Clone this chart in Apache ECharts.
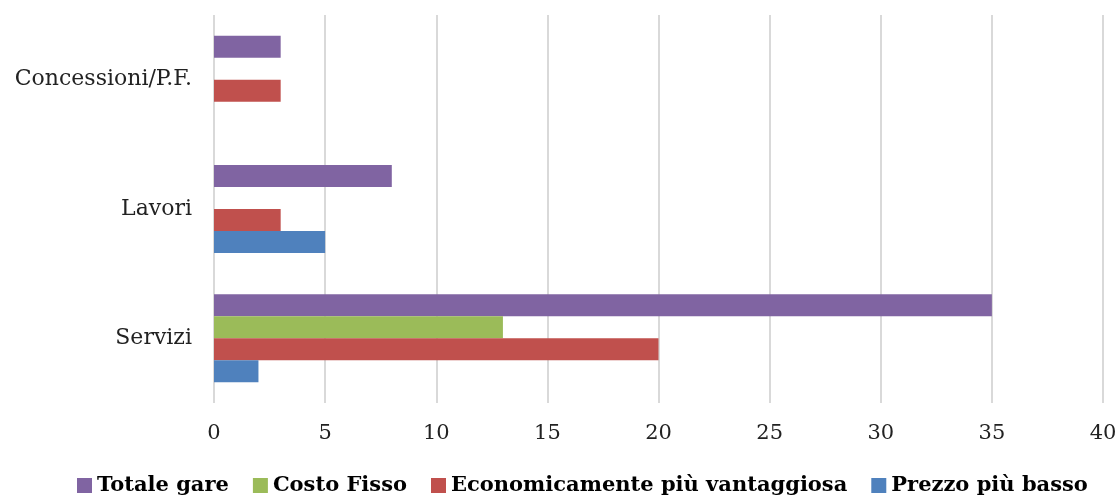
<!DOCTYPE html>
<html>
<head>
<meta charset="utf-8">
<script src="https://cdn.jsdelivr.net/npm/echarts@6/dist/echarts.min.js"></script>
<style>
  html, body { margin: 0; padding: 0; background: #fff; }
  #chart { width: 1120px; height: 501px; }
</style>
</head>
<body>
<div id="chart"></div>
<script>
const categories = ['Servizi', 'Lavori', 'Concessioni/P.F.']
const seriesNames = ['Totale gare', 'Costo Fisso', 'Economicamente più vantaggiosa', 'Prezzo più basso']
const totaleGare = [35, 8, 3]
const costoFisso = [13, 0, 0]
const economicamente = [20, 3, 3]
const prezzoBasso = [2, 5, 0]

const colors = ['#8064a2', '#9bbb59', '#c0504d', '#4f81bd']
const font = '"DejaVu Serif", "Liberation Serif", serif'

const chart = echarts.init(document.getElementById('chart'))

const values = [totaleGare, costoFisso, economicamente, prezzoBasso]

chart.setOption({
  animation: false,
  textStyle: { fontFamily: font },
  grid: { top: 15, bottom: 98, left: 214, right: 17 },
  legend: {
    data: seriesNames,
    bottom: 0,
    left: 72,
    itemWidth: 15,
    itemHeight: 15,
    itemGap: 24,
    itemStyle: { borderWidth: 0 },
    icon: 'rect',
    textStyle: { fontFamily: font, fontSize: 21, fontWeight: 'bold', color: '#000' }
  },
  xAxis: {
    type: 'value',
    min: 0,
    max: 40,
    interval: 5,
    axisLine: { show: false },
    axisTick: { show: false },
    axisLabel: { color: '#222', fontSize: 21, fontFamily: font, margin: 20 },
    splitLine: { lineStyle: { color: '#d9d9d9', width: 2 } }
  },
  yAxis: {
    type: 'category',
    data: categories,
    axisLine: { show: false },
    axisTick: { show: false },
    axisLabel: { color: '#222', fontSize: 22, fontFamily: font, margin: 22 }
  },
  series: seriesNames.map((name, i) => ({
    name,
    type: 'bar',
    data: values[i],
    barGap: '0%',
    barCategoryGap: '32%',
    itemStyle: { color: colors[i] }
  }))
})
</script>
</body>
</html>
